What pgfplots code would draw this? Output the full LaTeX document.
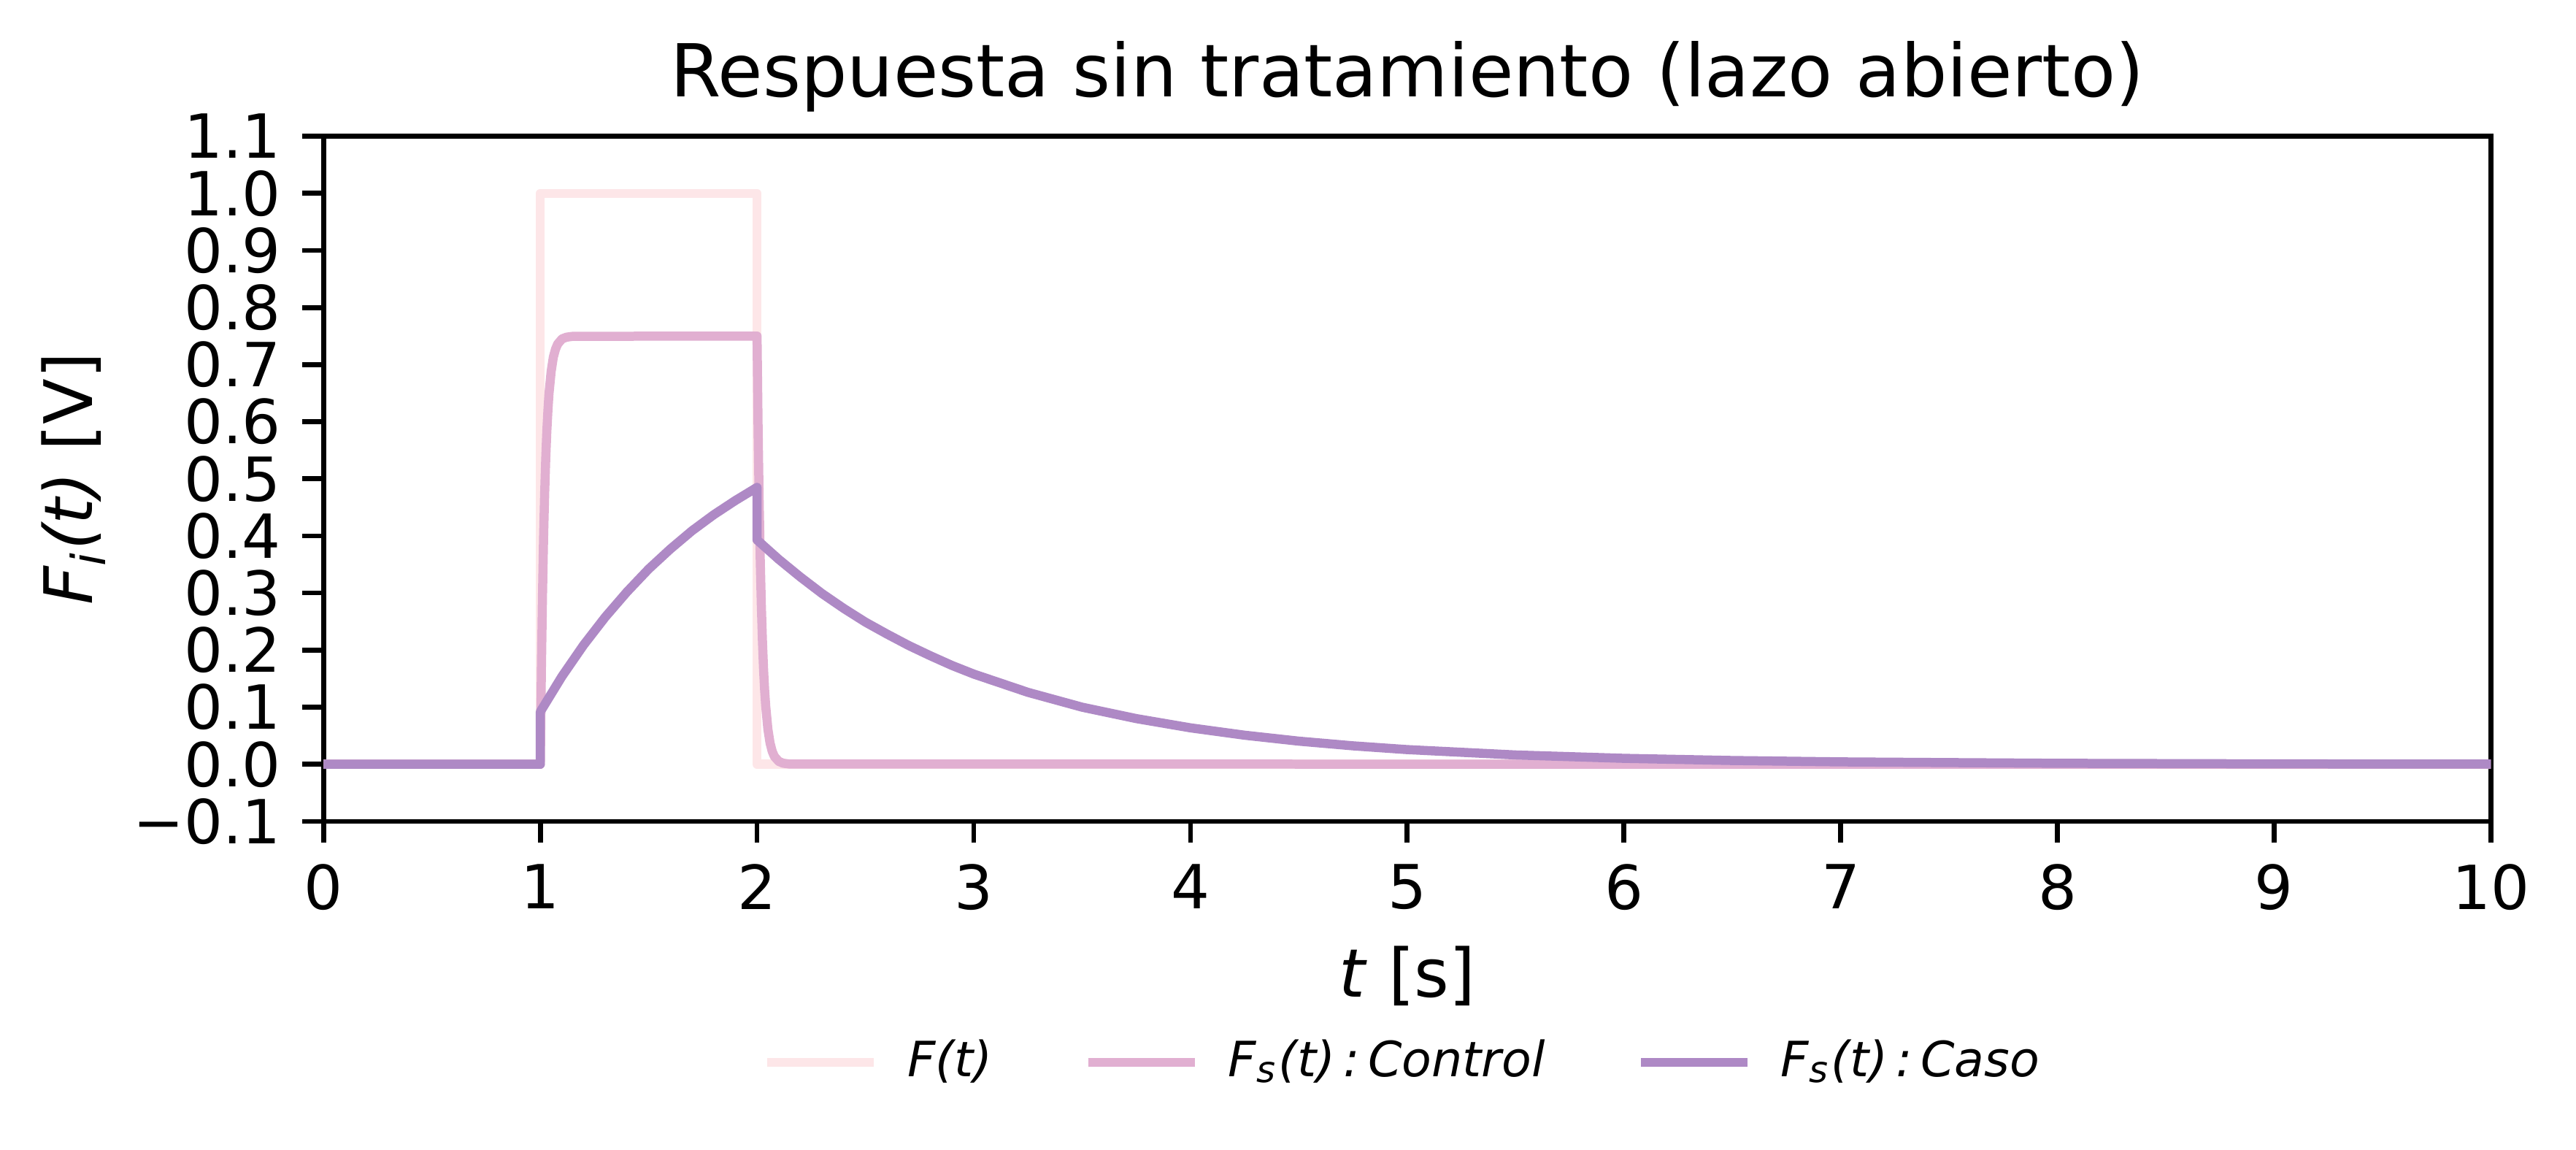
\documentclass[border=0pt]{standalone}
\usepackage{fontspec}
\setmainfont{DejaVu Sans}
\usepackage{pgfplots}
\pgfplotsset{compat=1.18}
\definecolor{cF}{RGB}{253,230,232}
\definecolor{cCtrl}{RGB}{225,175,209}
\definecolor{cCaso}{RGB}{174,137,197}
\begin{document}
\begin{tikzpicture}
\begin{axis}[
  name=ax,
  scale only axis,
  width=356.3pt, height=112.6pt,
  xmin=0, xmax=10, ymin=-0.1, ymax=1.1,
  xtick={0,1,2,3,4,5,6,7,8,9,10},
  xticklabels={0,1,2,3,4,5,6,7,8,9,10},
  ytick={-0.1,0,0.1,0.2,0.3,0.4,0.5,0.6,0.7,0.8,0.9,1.0,1.1},
  yticklabels={−0.1,0.0,0.1,0.2,0.3,0.4,0.5,0.6,0.7,0.8,0.9,1.0,1.1},
  tick pos=left,
  tick align=outside,
  major tick length=3.5pt,
  tick style={line width=0.8pt, black},
  axis line style={line width=0.8pt},
  tick label style={font=\fontsize{10}{12}\selectfont},
  title={Respuesta sin tratamiento (lazo abierto)},
  title style={font=\fontsize{12}{14}\selectfont, at={(axis description cs:0.5,1)}, anchor=base, yshift=0.5pt, inner sep=0pt},
  xlabel={\textit{t} [s]},
  xlabel style={font=\fontsize{11}{13}\selectfont, at={(axis description cs:0.5,-0.256)}, anchor=base, inner sep=0pt},
  ylabel={\textit{F\textsubscript{i}(t)} [V]},
  ylabel style={font=\fontsize{11}{13}\selectfont, at={(axis description cs:-0.1154,0.5)}, anchor=center, inner sep=0pt},
  legend columns=3,
  legend cell align=left,
  legend style={draw=none, fill=none, font=\fontsize{8}{9.6}\selectfont,
    at={(axis description cs:0.5,-0.352)}, anchor=center,
    /tikz/every even column/.append style={column sep=13pt},
    /tikz/every odd column/.append style={column sep=2.8pt}},
  legend image code/.code={\draw[#1] (0pt,0pt) -- (17.5pt,0pt);},
  every axis plot/.append style={line width=1.5pt, line join=round},
]
\addplot[cF] coordinates {(0,0) (1,0) (1,1) (2,1) (2,0) (10,0)};
\addlegendentry{\textit{F(t)}}
\addplot[cCtrl] coordinates {
(0,0) (1,0) (1.005,0.166) (1.01,0.295) (1.015,0.396) (1.02,0.474) (1.025,0.535)
(1.03,0.583) (1.035,0.619) (1.04,0.649) (1.05,0.688) (1.06,0.713) (1.07,0.727)
(1.08,0.736) (1.1,0.745) (1.12,0.748) (1.15,0.7496) (2,0.75)
(2.005,0.584) (2.01,0.455) (2.015,0.354) (2.02,0.276) (2.025,0.215) (2.03,0.167)
(2.035,0.130) (2.04,0.102) (2.05,0.0616) (2.06,0.0373) (2.07,0.0226) (2.08,0.0137)
(2.1,0.0051) (2.12,0.0019) (2.15,0.0004) (10,0)};
\addlegendentry{\textit{F\textsubscript{s}(t)\,:\,Control}}
\addplot[cCaso] coordinates {
(0,0) (1,0) (1,0.092) (1.1,0.154) (1.2,0.209) (1.3,0.258) (1.4,0.302) (1.5,0.342)
(1.6,0.377) (1.7,0.409) (1.8,0.437) (1.9,0.462) (2,0.485) (2,0.393)
(2.1,0.359) (2.2,0.328) (2.3,0.299) (2.4,0.273) (2.5,0.249) (2.6,0.228) (2.7,0.208)
(2.8,0.190) (2.9,0.173) (3,0.158) (3.25,0.126) (3.5,0.100) (3.75,0.080) (4,0.0638)
(4.25,0.0509) (4.5,0.0405) (4.75,0.0323) (5,0.0257) (5.5,0.0163) (6,0.0104)
(6.5,0.0066) (7,0.0042) (8,0.0017) (9,0.0007) (10,0.0003)};
\addlegendentry{\textit{F\textsubscript{s}(t)\,:\,Caso}}
\end{axis}
\pgfresetboundingbox
\path ([xshift=-53.2pt,yshift=-54pt]ax.south west) rectangle ([xshift=14pt,yshift=22.4pt]ax.north east);
\end{tikzpicture}
\end{document}
